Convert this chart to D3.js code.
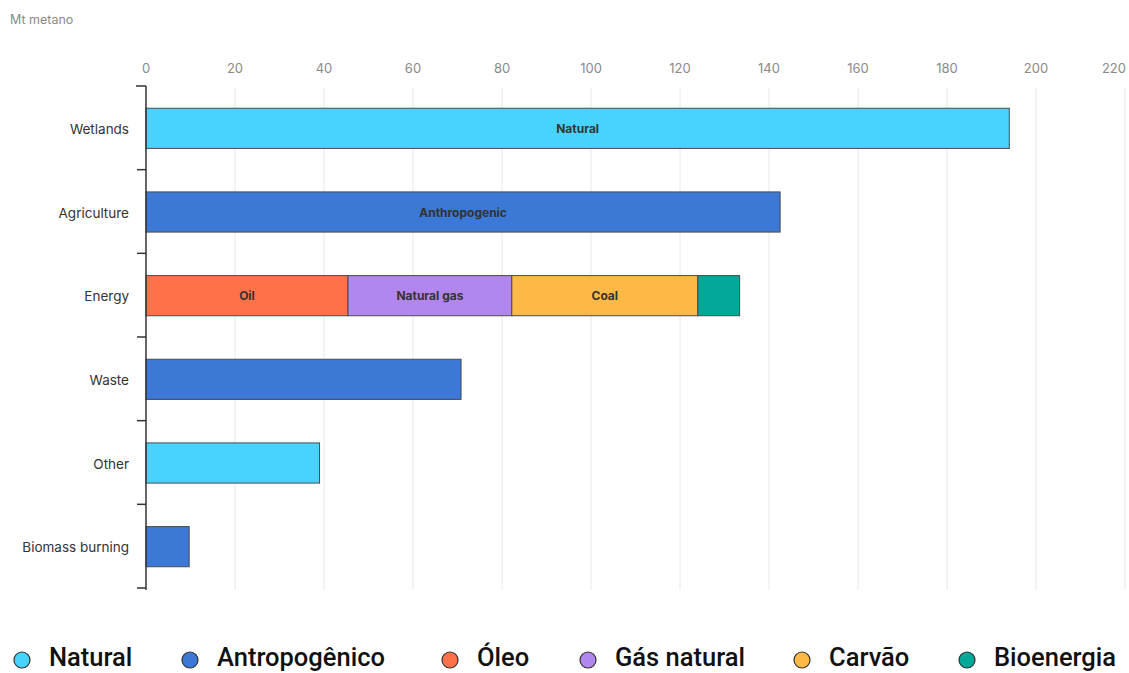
<!DOCTYPE html>
<html><head><meta charset="utf-8">
<script src="https://cdn.jsdelivr.net/npm/d3@7"></script>
<style>body{margin:0;background:#fff}svg{display:block}</style>
</head><body>
<svg id="c" width="1129" height="673"></svg>
<script>
const categories = ["Wetlands","Agriculture","Energy","Waste","Other","Biomass burning"];
const natural      = [194, 0, 0, 0, 39, 0];
const anthropogenic= [0, 142.5, 0, 70.8, 0, 9.7];
const oil          = [0, 0, 45.4, 0, 0, 0];
const naturalGas   = [0, 0, 36.8, 0, 0, 0];
const coal         = [0, 0, 41.8, 0, 0, 0];
const bioenergy    = [0, 0, 9.4, 0, 0, 0];
const seriesKeys   = ["natural","anthropogenic","oil","naturalGas","coal","bioenergy"];
const seriesData   = {natural, anthropogenic, oil, naturalGas, coal, bioenergy};
const barLabels    = {natural:"Natural", anthropogenic:"Anthropogenic", oil:"Oil", naturalGas:"Natural gas", coal:"Coal", bioenergy:""};
const legendLabels = ["Natural","Antropogênico","Óleo","Gás natural","Carvão","Bioenergia"];
const colors       = ["#48d3ff","#3c78d6","#ff7249","#b186ee","#feb846","#04a899"];
const xTicks       = [0,20,40,60,80,100,120,140,160,180,200,220];

const svg = d3.select("#c");
const x = d3.scaleLinear().domain([0,220]).range([146,1125]);
const y = d3.scaleBand().domain(categories).range([86,588]).paddingInner(0.52).paddingOuter(0.26);

// gridlines
svg.append("g").selectAll("line").data(xTicks.filter(d=>d>0)).join("line")
  .attr("x1",d=>x(d)).attr("x2",d=>x(d)).attr("y1",88).attr("y2",590)
  .attr("stroke","#e8e8e8").attr("stroke-width",1);

// top tick labels
svg.append("g").selectAll("text").data(xTicks).join("text")
  .attr("x",(d,i)=> i===xTicks.length-1 ? x(d)+1 : x(d))
  .attr("y",73)
  .attr("text-anchor",(d,i)=> i===xTicks.length-1 ? "end" : "middle")
  .attr("font-family","Inter, 'Open Sans', sans-serif").attr("font-size",13)
  .attr("fill","#8a8a8a").text(d=>d);

svg.append("text").attr("x",10).attr("y",24)
  .attr("font-family","Inter, 'Open Sans', sans-serif").attr("font-size",12.5)
  .attr("fill","#8a8a8a").text("Mt metano");

// stacks
const rows = categories.map((c,i)=>{const o={cat:c}; seriesKeys.forEach(k=>o[k]=seriesData[k][i]); return o;});
const stack = d3.stack().keys(seriesKeys)(rows);
stack.forEach((layer,li)=>{
  const g = svg.append("g");
  layer.forEach(d=>{
    if (d[1]-d[0] <= 0) return;
    g.append("rect")
      .attr("x",x(d[0])).attr("y",y(d.data.cat)+0.5)
      .attr("width",x(d[1])-x(d[0])).attr("height",y.bandwidth())
      .attr("fill",colors[li]).attr("stroke","#4a4a4a").attr("stroke-width",1);
  });
});
// bar labels
const labelled = [["Wetlands","natural"],["Agriculture","anthropogenic"],["Energy","oil"],["Energy","naturalGas"],["Energy","coal"]];
labelled.forEach(([cat,key])=>{
  const li = seriesKeys.indexOf(key);
  const d = stack[li][categories.indexOf(cat)];
  svg.append("text").attr("x",(x(d[0])+x(d[1]))/2).attr("y",y(cat)+y.bandwidth()/2+5)
    .attr("text-anchor","middle").attr("font-family","Inter, 'Open Sans', sans-serif")
    .attr("font-size",12).attr("font-weight",700).attr("fill","#333").text(barLabels[key]);
});

// left axis
const step = y.step();
const bounds = d3.range(categories.length+1).map(i=>86 + i*step);
svg.append("line").attr("x1",146).attr("x2",146).attr("y1",86).attr("y2",590)
  .attr("stroke","#333").attr("stroke-width",1.5);
svg.append("g").selectAll("line").data(bounds).join("line")
  .attr("x1",(d,i)=> i===0 ? 136 : 137).attr("x2",146).attr("y1",d=>d).attr("y2",d=>d)
  .attr("stroke","#333").attr("stroke-width",1.5);
svg.append("g").selectAll("text").data(categories).join("text")
  .attr("x",129).attr("y",d=>y(d)+y.bandwidth()/2+6)
  .attr("text-anchor","end").attr("font-family","Inter, 'Open Sans', sans-serif")
  .attr("font-size",13.5).attr("fill","#333").text(d=>d);

// legend
const legendX = [22,190,450,588,802,967];
const lg = svg.append("g");
legendLabels.forEach((t,i)=>{
  lg.append("circle").attr("cx",legendX[i]).attr("cy",660).attr("r",8)
    .attr("fill",colors[i]).attr("stroke","#333").attr("stroke-width",1.2);
  lg.append("text").attr("x",legendX[i]+27).attr("y",666)
    .attr("font-family","Roboto, sans-serif").attr("font-size",25.5).attr("font-weight",500)
    .attr("fill","#111").text(t);
});
</script>
</body></html>
